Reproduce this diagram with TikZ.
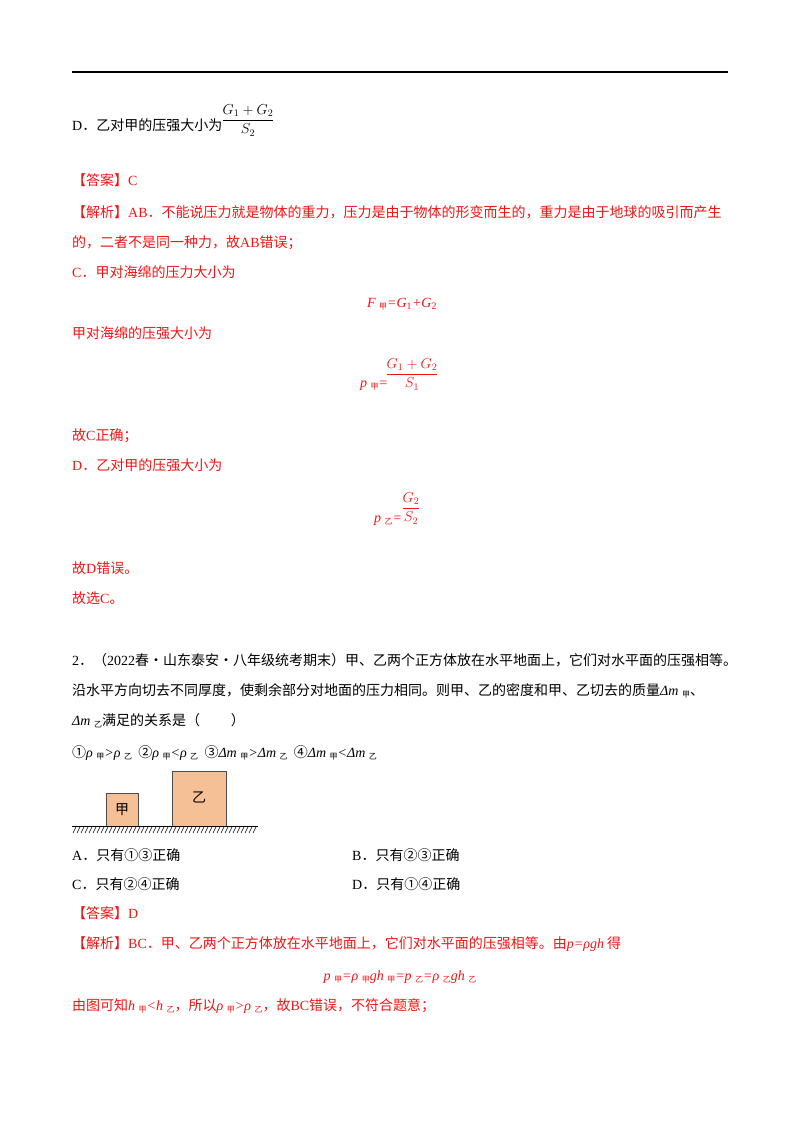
\documentclass[tikz,border=0pt]{standalone}
\usepackage{fontspec}
\setmainfont{Noto Sans CJK SC}
\newfontfamily\tm{Liberation Serif}
\definecolor{ansred}{RGB}{240,20,20}
\definecolor{boxorange}{RGB}{246,192,150}
\newcommand\zs[1]{\raisebox{-2pt}{\fontsize{8}{8}\selectfont\upshape\rmfamily #1}}
\newcommand\nb[1]{\textsubscript{\upshape #1}}

\begin{document}
\begin{tikzpicture}[x=1pt, y=-1pt,
    txt/.style={anchor=base west, inner sep=0pt, font=\fontsize{14}{14}\selectfont},
    ans/.style={txt, text=ansred},
    mid/.style={anchor=base, inner sep=0pt, font=\fontsize{14}{14}\selectfont, text=ansred},
    cube/.style={draw=black!70, fill=boxorange, line width=0.8pt},
]
\useasboundingbox (0,0) rectangle (800,1132);

% header rule
\draw[line width=1.6pt] (72,72) -- (728,72);

% option D of the previous question
\node[txt] (d0) at (72,130) {{\tm D}．乙对甲的压强大小为};
\node[txt, anchor=base] (d0f) at (248,124) {$\displaystyle\frac{G_1+G_2}{S_2}$};

% answer 1
\node[ans] (a1) at (72,185) {【答案】{\tm C}};
\node[ans] (e1) at (72,217) {【解析】{\tm AB}．不能说压力就是物体的重力，压力是由于物体的形变而生的，重力是由于地球的吸引而产生};
\node[ans] (e2) at (72,247) {的，二者不是同一种力，故{\tm AB}错误；};
\node[ans] (e3) at (72,277) {{\tm C}．甲对海绵的压力大小为};
\node[mid] (f1) at (402,307) {{\tm\itshape F \zs{甲}=G\nb{1}+G\nb{2}}};
\node[ans] (e4) at (72,338) {甲对海绵的压强大小为};
\node[mid] (p1) at (374,387) {{\tm\itshape p \zs{甲}=}};
\node[mid] (p1f) at (412,378) {$\displaystyle\frac{G_1+G_2}{S_1}$};
\node[ans] (e5) at (72,440) {故{\tm C}正确；};
\node[ans] (e6) at (72,470) {{\tm D}．乙对甲的压强大小为};
\node[mid] (p2) at (388,522) {{\tm\itshape p \zs{乙}=}};
\node[mid] (p2f) at (411,512) {$\displaystyle\frac{G_2}{S_2}$};
\node[ans] (e7) at (72,573) {故{\tm D}错误。};
\node[ans] (e8) at (72,603) {故选{\tm C}。};

% question 2
\node[txt] (q1) at (72,665) {{\tm 2}．（{\tm 2022}春·山东泰安·八年级统考期末）甲、乙两个正方体放在水平地面上，它们对水平面的压强相等。};
\node[txt] (q2) at (72,695) {沿水平方向切去不同厚度，使剩余部分对地面的压力相同。则甲、乙的密度和甲、乙切去的质量{\tm\itshape Δm \zs{甲}}、};
\node[txt] (q3) at (72,725) {{\tm\itshape Δm \zs{乙}}满足的关系是（\hspace{2.2em}）};
\node[txt] (q4) at (72,757) {①{\tm\itshape ρ \zs{甲}>ρ \zs{乙}}\ \ ②{\tm\itshape ρ \zs{甲}<ρ \zs{乙}}\ \ ③{\tm\itshape Δm \zs{甲}>Δm \zs{乙}}\ \ ④{\tm\itshape Δm \zs{甲}<Δm \zs{乙}}};

% figure
\draw[cube] (106,826) rectangle (138,793);
\draw[cube] (172,826) rectangle (226,771);
\node[txt, anchor=center] (jia) at (122,810) {甲};
\node[txt, anchor=center] (yi) at (199,797) {乙};
\draw[line width=0.8pt] (72,826) -- (258,826);
\foreach \x in {74,78,...,256}
  \draw[line width=0.5pt] (\x+2,827) -- (\x-1,833);

% choices
\node[txt] (ca) at (72,860) {{\tm A}．只有①③正确};
\node[txt] (cb) at (352,860) {{\tm B}．只有②③正确};
\node[txt] (cc) at (72,889) {{\tm C}．只有②④正确};
\node[txt] (cd) at (352,889) {{\tm D}．只有①④正确};

% answer 2
\node[ans] (a2) at (72,918) {【答案】{\tm D}};
\node[ans] (g1) at (72,948) {【解析】{\tm BC}．甲、乙两个正方体放在水平地面上，它们对水平面的压强相等。由{\tm\itshape p=ρgh} 得};
\node[mid] (f2) at (400,980) {{\tm\itshape p \zs{甲}=ρ \zs{甲}gh \zs{甲}=p \zs{乙}=ρ \zs{乙}gh \zs{乙}}};
\node[ans] (g2) at (72,1010) {由图可知{\tm\itshape h \zs{甲}<h \zs{乙}}，所以{\tm\itshape ρ \zs{甲}>ρ \zs{乙}}，故{\tm BC}错误，不符合题意；};
\end{tikzpicture}
\end{document}
